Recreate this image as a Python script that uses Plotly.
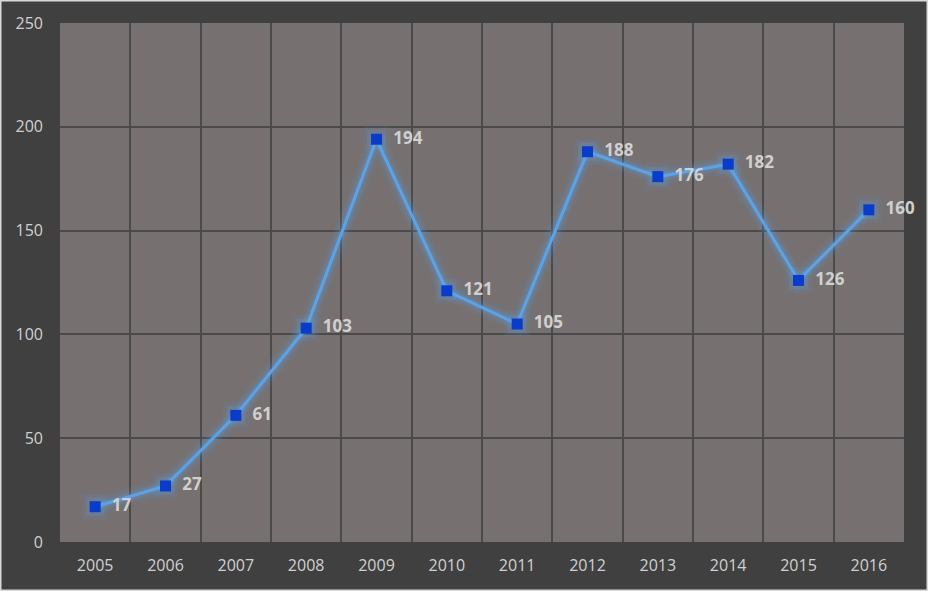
import plotly.graph_objects as go

years = ["2005", "2006", "2007", "2008", "2009", "2010", "2011", "2012", "2013", "2014", "2015", "2016"]
values = [17, 27, 61, 103, 194, 121, 105, 188, 176, 182, 126, 160]
y_ticks = [0, 50, 100, 150, 200, 250]

fig = go.Figure()

# glow layers
for w, a in [(18, 0.07), (12, 0.12), (7, 0.2)]:
    fig.add_trace(go.Scatter(
        x=years, y=values, mode="lines",
        line=dict(color=f"rgba(91,160,230,{a})", width=w),
        hoverinfo="skip", showlegend=False, cliponaxis=False))
for s, a in [(26, 0.10), (19, 0.16)]:
    fig.add_trace(go.Scatter(
        x=years, y=values, mode="markers",
        marker=dict(symbol="square", size=s, color=f"rgba(91,160,230,{a})", line=dict(width=0)),
        hoverinfo="skip", showlegend=False, cliponaxis=False))

fig.add_trace(go.Scatter(
    x=years, y=values, mode="lines+markers+text",
    line=dict(color="#5ba3e6", width=3),
    marker=dict(symbol="square", size=11, color="#0a3ccc", line=dict(width=0)),
    text=[f"<b>  {v}</b>" for v in values],
    textposition="middle right",
    textfont=dict(family="Open Sans, sans-serif", size=17, color="#d0d0d0"),
    showlegend=False, cliponaxis=False))

fig.update_layout(
    width=928, height=591,
    margin=dict(l=60, r=24, t=23, b=49),
    paper_bgcolor="#404040",
    plot_bgcolor="#767070",
    font=dict(family="Open Sans, sans-serif", size=16, color="#d0d0d0"),
    xaxis=dict(
        type="category", tickson="boundaries", showgrid=True,
        gridcolor="#4a4a4a", gridwidth=2, ticks="", showline=False,
        zeroline=False, tickfont=dict(size=16, color="#d0d0d0"),
        ticklabelstandoff=12,
        range=[-0.5, 11.5], fixedrange=True,
    ),
    yaxis=dict(
        range=[0, 250], tickvals=y_ticks, showgrid=True,
        gridcolor="#4a4a4a", gridwidth=2, zeroline=False,
        ticks="", ticklabelstandoff=16, tickfont=dict(size=16, color="#d0d0d0"),
        fixedrange=True,
    ),
    shapes=[dict(type="rect", xref="paper", yref="paper",
                 x0=-60/844, x1=1 + 24/844, y0=-49/519, y1=1 + 23/519,
                 line=dict(color="#d9d9d9", width=3), fillcolor="rgba(0,0,0,0)", layer="above")],
)

fig.write_html("out.html", config={"displayModeBar": False},
               post_script="document.body.style.margin='0';document.body.style.overflow='hidden';")
